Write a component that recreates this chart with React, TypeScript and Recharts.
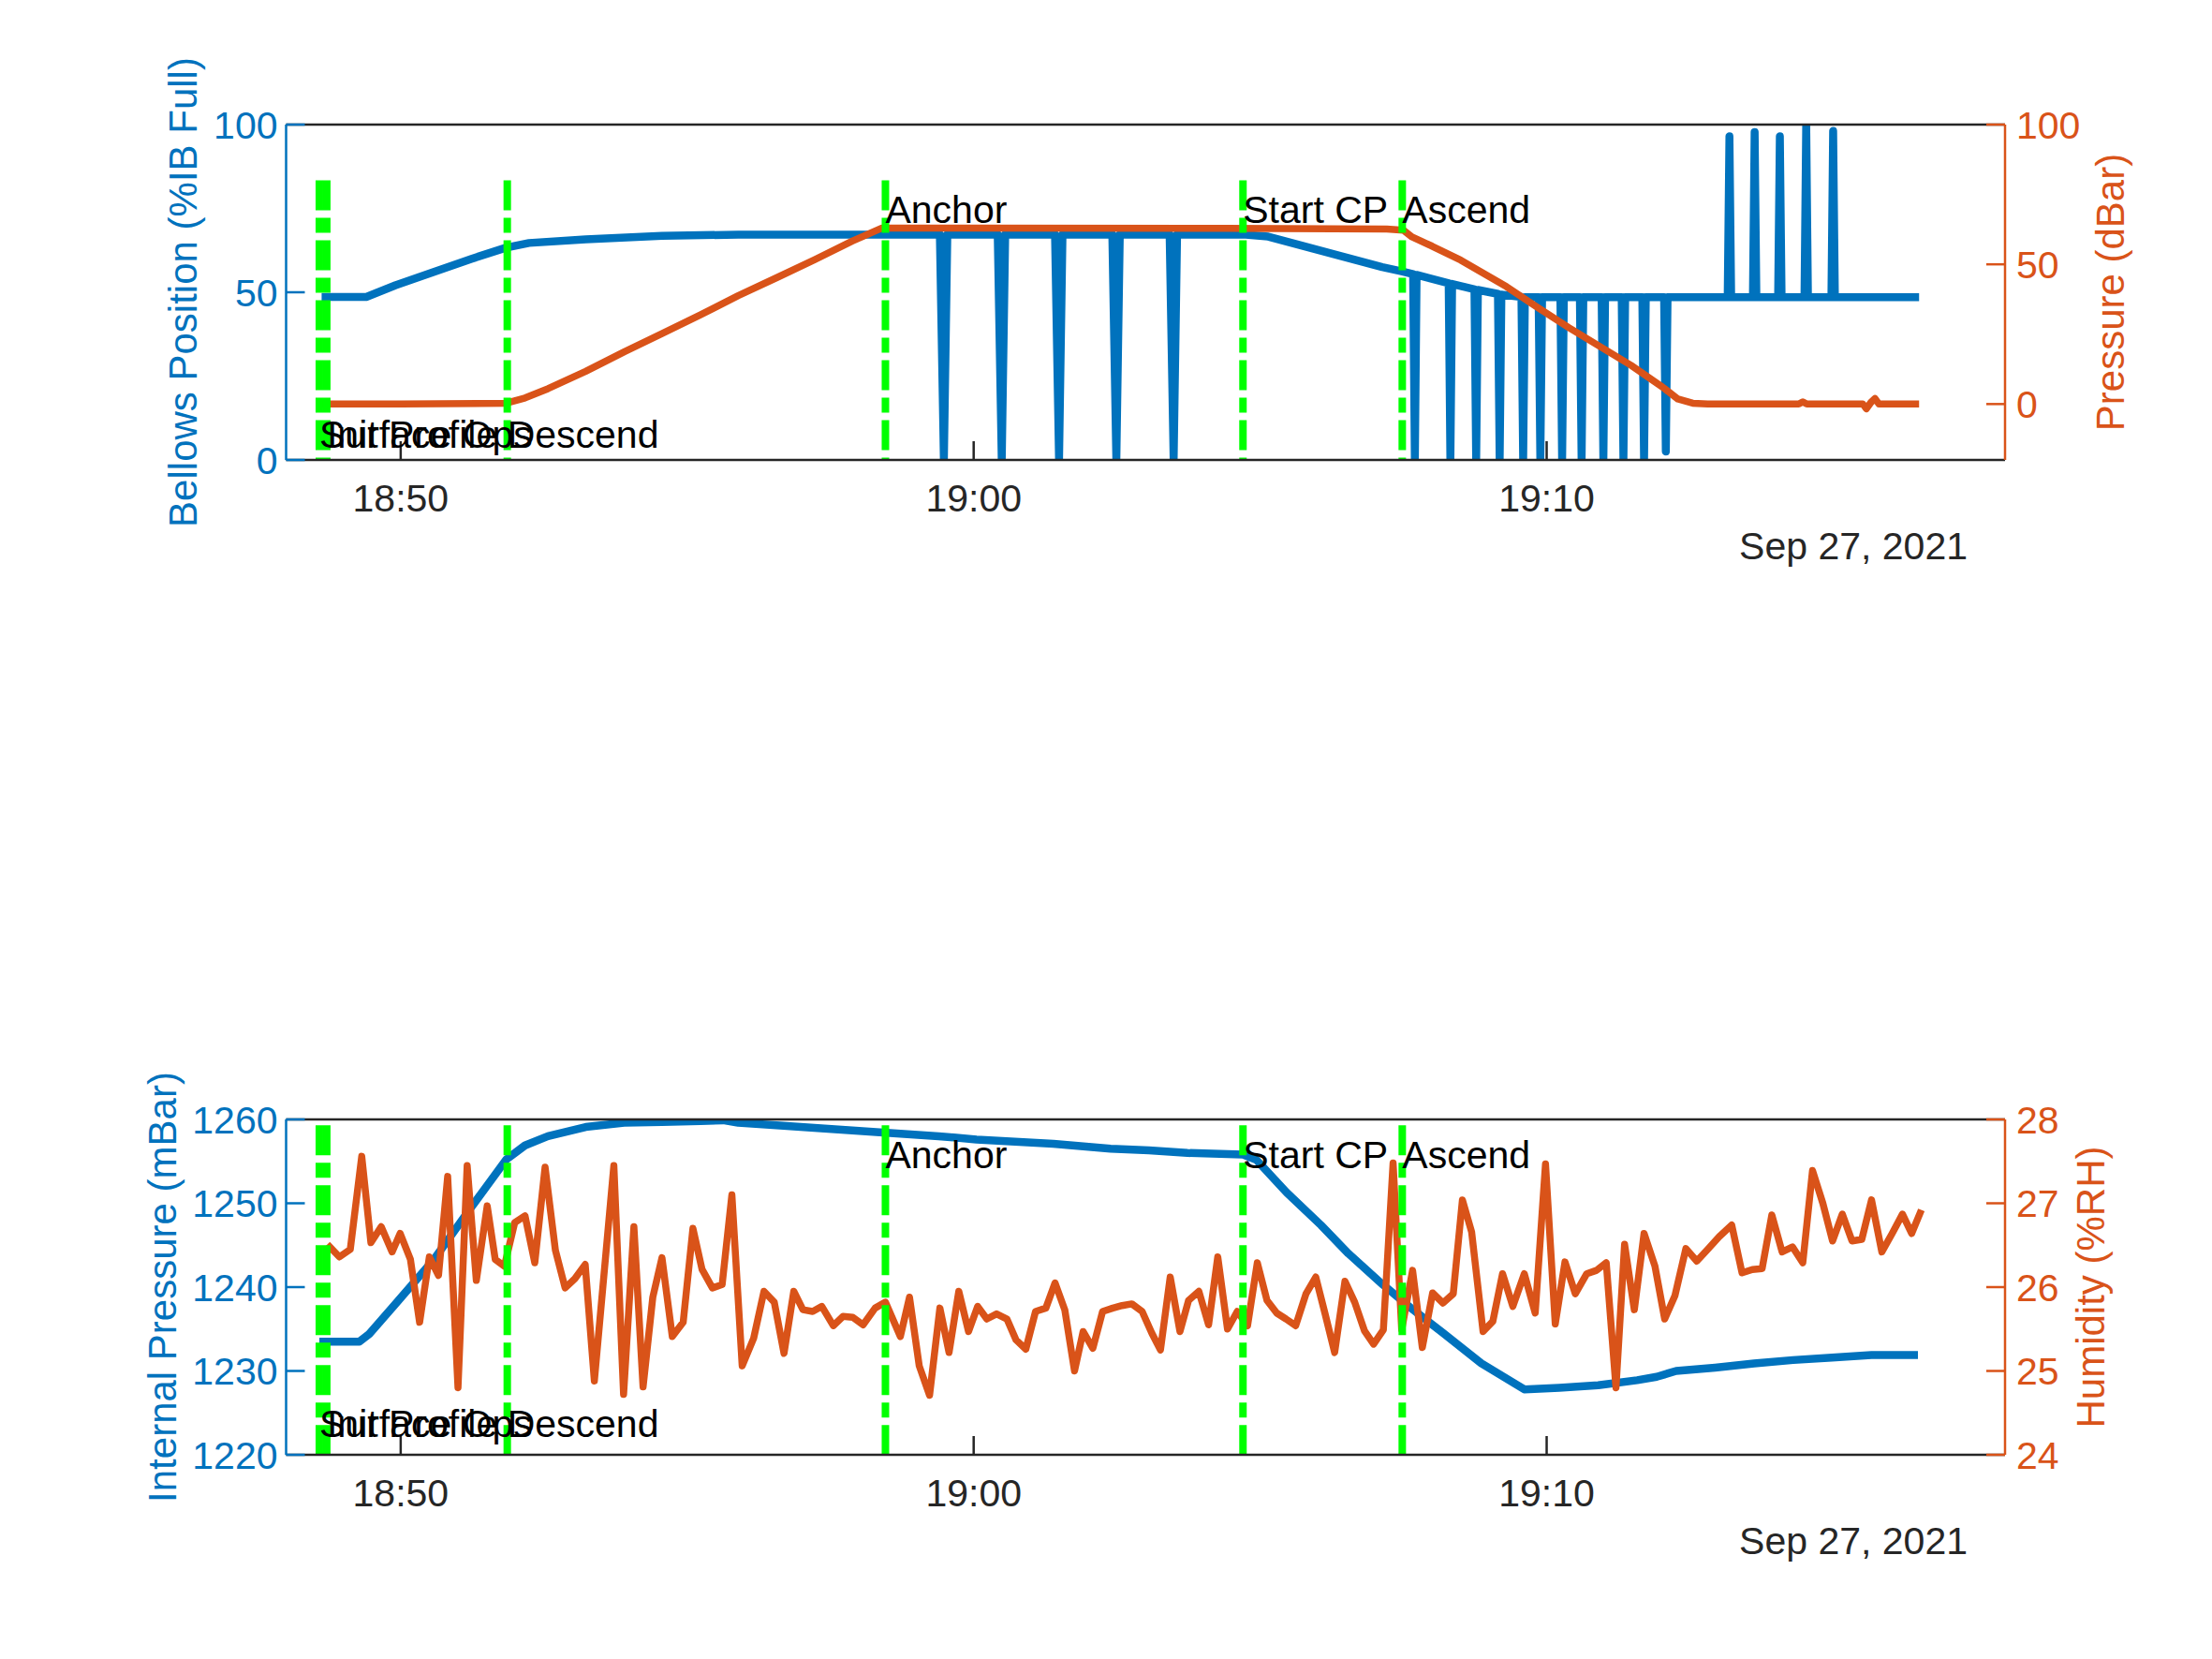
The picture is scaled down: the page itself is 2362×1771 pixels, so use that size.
import { LineChart, Line, XAxis, YAxis, ReferenceLine, ReferenceDot } from 'recharts'

const BLUE = '#0072BD'
const ORANGE = '#D95319'
const GREEN = '#00FF00'
const AXIS = '#262626'
const FONT = '"Liberation Sans", Arial, Helvetica, sans-serif'

const WIDTH = 2362
const LEFT_W = 305.5
const RIGHT_W = 221
const PLOT_H = 358

type Pt = [number, number]

// time is in minutes after 18:48:00, Sep 27, 2021
const timeTicks = [2, 12, 22]
const dateLabel = 'Sep 27, 2021'

const events = [
  { name: 'Surface Ops', t: 0.58, high: false },
  { name: 'Init Profile', t: 0.71, high: false },
  { name: 'Descend', t: 3.86, high: false },
  { name: 'Anchor', t: 10.46, high: true },
  { name: 'Start CP', t: 16.7, high: true },
  { name: 'Ascend', t: 19.48, high: true },
]

const bellowsPosition: Pt[] = [
  [0.62, 48.6], [1.4, 48.6], [1.91, 52.1], [2.58, 56.1], [3.24, 60.0], [3.84, 63.3], [4.24, 64.7],
  [5.23, 65.8], [6.56, 66.8], [7.89, 67.2], [10.34, 67.2],
  [11.41, 67.2], [11.48, 0], [11.54, 67.2],
  [12.42, 67.2], [12.49, 0], [12.55, 67.2],
  [13.42, 67.2], [13.49, 0], [13.55, 67.2],
  [14.42, 67.2], [14.49, 0], [14.55, 67.2],
  [15.42, 67.2], [15.49, 0], [15.55, 67.2],
  [16.75, 67.2], [17.14, 66.6], [18.41, 60.8], [19.13, 57.5], [19.45, 56.3],
  [19.67, 55.4], [19.7, 0], [19.73, 55.2],
  [20.29, 52.7], [20.32, 0], [20.35, 52.5],
  [20.74, 50.9], [20.77, 0], [20.8, 50.7],
  [21.15, 49.5], [21.18, 0], [21.21, 49.3],
  [21.56, 48.6], [21.59, 0], [21.62, 48.5],
  [21.86, 48.5], [21.89, 0], [21.92, 48.5],
  [22.24, 48.5], [22.27, 0], [22.3, 48.5],
  [22.58, 48.5], [22.61, 0], [22.64, 48.5],
  [22.96, 48.5], [22.99, 0], [23.02, 48.5],
  [23.31, 48.5], [23.34, 0], [23.37, 48.5],
  [23.67, 48.5], [23.7, 0], [23.73, 48.5],
  [24.05, 48.5], [24.08, 2.5], [24.11, 48.5],
  [25.16, 48.5], [25.19, 96.5], [25.22, 48.5],
  [25.6, 48.5], [25.63, 97.8], [25.66, 48.5],
  [26.04, 48.5], [26.07, 96.5], [26.1, 48.5],
  [26.5, 48.5], [26.53, 100], [26.56, 48.5],
  [26.97, 48.5], [27.0, 98.1], [27.03, 48.5],
  [28.5, 48.5],
]

const ctdPressure: Pt[] = [
  [0.62, 0.0], [2.0, 0.0], [3.84, 0.3], [4.17, 2.2], [4.57, 5.5], [5.23, 11.7], [5.9, 18.7],
  [6.56, 25.2], [7.23, 31.9], [7.89, 38.8], [8.56, 45.2], [9.22, 51.6], [9.88, 58.3],
  [10.4, 63.0], [12.0, 63.0], [16.4, 62.9], [19.21, 62.6], [19.5, 62.2], [19.65, 59.8],
  [20.0, 56.5], [20.5, 51.5], [21.3, 42.0], [21.84, 34.6], [22.39, 27.3], [22.93, 20.6],
  [23.47, 13.9], [24.02, 6.1], [24.29, 1.8], [24.55, 0.3], [24.81, 0.0], [26.4, 0.0],
  [26.47, 0.8], [26.54, 0.0], [27.52, 0.0], [27.58, -1.7], [27.66, 0.6], [27.73, 2.0],
  [27.8, 0.0], [28.5, 0.0],
]

const internalPressure: Pt[] = [
  [0.58, 1233.5], [1.28, 1233.5], [1.45, 1234.4], [1.91, 1238.0], [2.58, 1243.3], [3.24, 1249.6],
  [3.84, 1255.2], [4.17, 1256.9], [4.57, 1258.0], [5.23, 1259.1], [5.9, 1259.6], [6.56, 1259.7],
  [7.23, 1259.8], [7.63, 1259.9], [7.89, 1259.6], [8.56, 1259.3], [9.22, 1259.0], [9.88, 1258.7],
  [10.48, 1258.4], [11.39, 1258.0], [12.05, 1257.6], [13.39, 1257.1], [14.39, 1256.5],
  [15.06, 1256.3], [15.73, 1256.0], [16.7, 1255.8], [16.93, 1255.2], [17.46, 1251.3],
  [18.06, 1247.4], [18.54, 1244.0], [19.14, 1240.3], [19.67, 1237.3], [20.18, 1234.6],
  [20.86, 1230.9], [21.61, 1227.8], [22.22, 1228.0], [22.9, 1228.3], [23.58, 1228.9],
  [23.92, 1229.3], [24.26, 1230.0], [24.94, 1230.4], [25.62, 1230.9], [26.3, 1231.3],
  [26.98, 1231.6], [27.67, 1231.9], [28.48, 1231.9],
]

const humidity: Pt[] = [
  [0.72, 26.51], [0.93, 26.36], [1.12, 26.45], [1.32, 27.56], [1.48, 26.53], [1.66, 26.72],
  [1.85, 26.42], [1.99, 26.64], [2.17, 26.33], [2.33, 25.58], [2.5, 26.36], [2.66, 26.14],
  [2.82, 27.32], [3.0, 24.8], [3.16, 27.45], [3.32, 26.08], [3.51, 26.97], [3.65, 26.33],
  [3.81, 26.25], [3.99, 26.77], [4.17, 26.85], [4.34, 26.29], [4.52, 27.43], [4.7, 26.44],
  [4.87, 25.99], [5.04, 26.1], [5.22, 26.27], [5.38, 24.88], [5.72, 27.45], [5.89, 24.72],
  [6.07, 26.72], [6.23, 24.81], [6.4, 25.88], [6.56, 26.35], [6.74, 25.41], [6.93, 25.58],
  [7.1, 26.7], [7.26, 26.21], [7.44, 25.99], [7.61, 26.03], [7.78, 27.1], [7.96, 25.06],
  [8.16, 25.39], [8.34, 25.95], [8.52, 25.82], [8.69, 25.21], [8.86, 25.95], [9.02, 25.73],
  [9.19, 25.71], [9.35, 25.77], [9.55, 25.54], [9.72, 25.65], [9.89, 25.64], [10.07, 25.55],
  [10.28, 25.75], [10.46, 25.82], [10.72, 25.41], [10.88, 25.88], [11.05, 25.06], [11.23, 24.71],
  [11.41, 25.75], [11.57, 25.22], [11.74, 25.95], [11.91, 25.47], [12.07, 25.77], [12.23, 25.62],
  [12.4, 25.68], [12.58, 25.62], [12.74, 25.37], [12.91, 25.26], [13.08, 25.71], [13.26, 25.75],
  [13.42, 26.05], [13.59, 25.73], [13.76, 25.0], [13.91, 25.47], [14.08, 25.27], [14.25, 25.71],
  [14.43, 25.75], [14.59, 25.78], [14.76, 25.8], [14.94, 25.71], [15.11, 25.45], [15.26, 25.25],
  [15.43, 26.12], [15.6, 25.47], [15.75, 25.84], [15.93, 25.95], [16.1, 25.55], [16.26, 26.36],
  [16.43, 25.5], [16.6, 25.71], [16.78, 25.54], [16.95, 26.29], [17.12, 25.84], [17.29, 25.69],
  [17.45, 25.62], [17.62, 25.54], [17.8, 25.92], [17.97, 26.12], [18.13, 25.69], [18.3, 25.22],
  [18.48, 26.07], [18.65, 25.82], [18.82, 25.48], [18.98, 25.32], [19.15, 25.49], [19.32, 27.48],
  [19.47, 25.49], [19.66, 26.2], [19.83, 25.28], [20.01, 25.93], [20.19, 25.81], [20.37, 25.92],
  [20.53, 27.04], [20.69, 26.66], [20.89, 25.47], [21.06, 25.59], [21.23, 26.16], [21.41, 25.77],
  [21.61, 26.16], [21.8, 25.69], [21.98, 27.47], [22.15, 25.56], [22.32, 26.3], [22.5, 25.92],
  [22.7, 26.16], [22.87, 26.2], [23.04, 26.29], [23.21, 24.8], [23.36, 26.51], [23.53, 25.73],
  [23.7, 26.64], [23.89, 26.25], [24.06, 25.62], [24.24, 25.9], [24.43, 26.46], [24.62, 26.31],
  [24.81, 26.45], [25.01, 26.6], [25.23, 26.74], [25.41, 26.17], [25.59, 26.21], [25.76, 26.22],
  [25.93, 26.86], [26.11, 26.42], [26.29, 26.48], [26.47, 26.29], [26.64, 27.39], [26.82, 27.0],
  [26.99, 26.55], [27.16, 26.87], [27.33, 26.55], [27.5, 26.57], [27.67, 27.04], [27.85, 26.42],
  [28.03, 26.64], [28.21, 26.87], [28.37, 26.64], [28.54, 26.92],
]

const toRows = (pts: Pt[]) => pts.map(([t, v]) => ({ t, v }))

function clock(minutes: number) {
  const total = 18 * 60 + 48 + minutes
  const h = Math.floor(total / 60)
  const m = Math.round(total % 60)
  return `${h}:${String(m).padStart(2, '0')}`
}

function AxisTitle(props: any) {
  const { viewBox, text, color, cx } = props
  const cy = viewBox.y + viewBox.height / 2
  return (
    <text
      x={cx}
      y={cy}
      transform={`rotate(-90 ${cx} ${cy})`}
      textAnchor="middle"
      dominantBaseline="central"
      fill={color}
      fontSize={42}
      fontFamily={FONT}
    >
      {text}
    </text>
  )
}

function DateLabel(props: any) {
  const { viewBox } = props
  return (
    <text
      x={viewBox.x + viewBox.width - 40}
      y={viewBox.y + 92}
      textAnchor="end"
      dominantBaseline="central"
      fill={AXIS}
      fontSize={41}
      fontFamily={FONT}
    >
      {dateLabel}
    </text>
  )
}

function EventLabel(props: any) {
  const { viewBox, text } = props
  return (
    <text x={viewBox.x} y={viewBox.y} dominantBaseline="central" fill="#000" fontSize={41} fontFamily={FONT}>
      {text}
    </text>
  )
}

type AxisSpec = { title: string; color: string; domain: [number, number]; ticks: number[]; titleX: number }

type PanelProps = {
  height: number
  plotTop: number
  left: AxisSpec
  right: AxisSpec
  leftSeries: Pt[]
  rightSeries: Pt[]
  rightWidth: number
  eventSpan: [number, number]
  labelLow: number
  labelHigh: number
}

function Panel({ height, plotTop, left, right, leftSeries, rightSeries, rightWidth, eventSpan, labelLow, labelHigh }: PanelProps) {
  const axisLine = { stroke: AXIS, strokeWidth: 2.5 }
  return (
    <LineChart width={WIDTH} height={height} margin={{ top: plotTop - 1, right: 0, bottom: 0, left: 0 }}>
      <XAxis
        type="number"
        dataKey="t"
        domain={[0, 30]}
        allowDataOverflow
        ticks={timeTicks}
        interval={0}
        tickFormatter={clock}
        height={height - plotTop - PLOT_H}
        tickSize={-20}
        tickMargin={46}
        axisLine={axisLine}
        tickLine={axisLine}
        tick={{ fill: AXIS, fontSize: 41, fontFamily: FONT }}
        label={<DateLabel />}
      />
      <XAxis
        xAxisId="top"
        orientation="top"
        type="number"
        dataKey="t"
        domain={[0, 30]}
        allowDataOverflow
        ticks={timeTicks}
        interval={0}
        height={1}
        tickSize={-20}
        tick={false}
        axisLine={axisLine}
        tickLine={axisLine}
      />
      <YAxis
        yAxisId="left"
        width={LEFT_W}
        domain={left.domain}
        allowDataOverflow
        ticks={left.ticks}
        interval={0}
        tickSize={-20}
        tickMargin={29}
        axisLine={{ stroke: left.color, strokeWidth: 2.5 }}
        tickLine={{ stroke: left.color, strokeWidth: 2.5 }}
        tick={{ fill: left.color, fontSize: 41, fontFamily: FONT }}
        label={<AxisTitle text={left.title} color={left.color} cx={left.titleX} />}
      />
      <YAxis
        yAxisId="right"
        orientation="right"
        width={rightWidth}
        domain={right.domain}
        allowDataOverflow
        ticks={right.ticks}
        interval={0}
        tickSize={-20}
        tickMargin={32}
        axisLine={{ stroke: right.color, strokeWidth: 2.5 }}
        tickLine={{ stroke: right.color, strokeWidth: 2.5 }}
        tick={{ fill: right.color, fontSize: 41, fontFamily: FONT }}
        label={<AxisTitle text={right.title} color={right.color} cx={right.titleX} />}
      />
      <Line
        yAxisId="left"
        data={toRows(leftSeries)}
        dataKey="v"
        type="linear"
        stroke={BLUE}
        strokeWidth={8.5}
        strokeLinejoin="round"
        dot={false}
        isAnimationActive={false}
      />
      <Line
        yAxisId="right"
        data={toRows(rightSeries)}
        dataKey="v"
        type="linear"
        stroke={ORANGE}
        strokeWidth={7.5}
        strokeLinejoin="round"
        dot={false}
        isAnimationActive={false}
      />
      {events.map((e) => (
        <ReferenceLine
          key={`line-${e.name}`}
          yAxisId="left"
          segment={[
            { x: e.t, y: eventSpan[1] },
            { x: e.t, y: eventSpan[0] },
          ]}
          stroke={GREEN}
          strokeWidth={8}
          strokeDasharray="32 8 16 8"
        />
      ))}
      {events.map((e) => (
        <ReferenceDot
          key={`label-${e.name}`}
          yAxisId="left"
          x={e.t}
          y={e.high ? labelHigh : labelLow}
          r={0}
          stroke="none"
          fill="none"
          label={<EventLabel text={e.name} />}
        />
      ))}
    </LineChart>
  )
}

export default function App() {
  return (
    <div style={{ position: 'absolute', left: 0, top: 0, width: WIDTH, height: 1771, background: '#fff' }}>
      <Panel
        height={885}
        plotTop={133}
        left={{ title: 'Bellows Position (%IB Full)', color: BLUE, domain: [0, 100], ticks: [0, 50, 100], titleX: 195 }}
        right={{ title: 'Pressure (dBar)', color: ORANGE, domain: [-20, 100], ticks: [0, 50, 100], titleX: 2253 }}
        leftSeries={bellowsPosition}
        rightSeries={ctdPressure}
        rightWidth={RIGHT_W}
        eventSpan={[0, 83.4]}
        labelLow={7.6}
        labelHigh={74.5}
      />
      <Panel
        height={886}
        plotTop={310}
        left={{ title: 'Internal Pressure (mBar)', color: BLUE, domain: [1220, 1260], ticks: [1220, 1230, 1240, 1250, 1260], titleX: 173 }}
        right={{ title: 'Humidity (%RH)', color: ORANGE, domain: [24, 28], ticks: [24, 25, 26, 27, 28], titleX: 2232 }}
        leftSeries={internalPressure}
        rightSeries={humidity}
        rightWidth={RIGHT_W}
        eventSpan={[1220, 1259.3]}
        labelLow={1223.7}
        labelHigh={1255.8}
      />
    </div>
  )
}
